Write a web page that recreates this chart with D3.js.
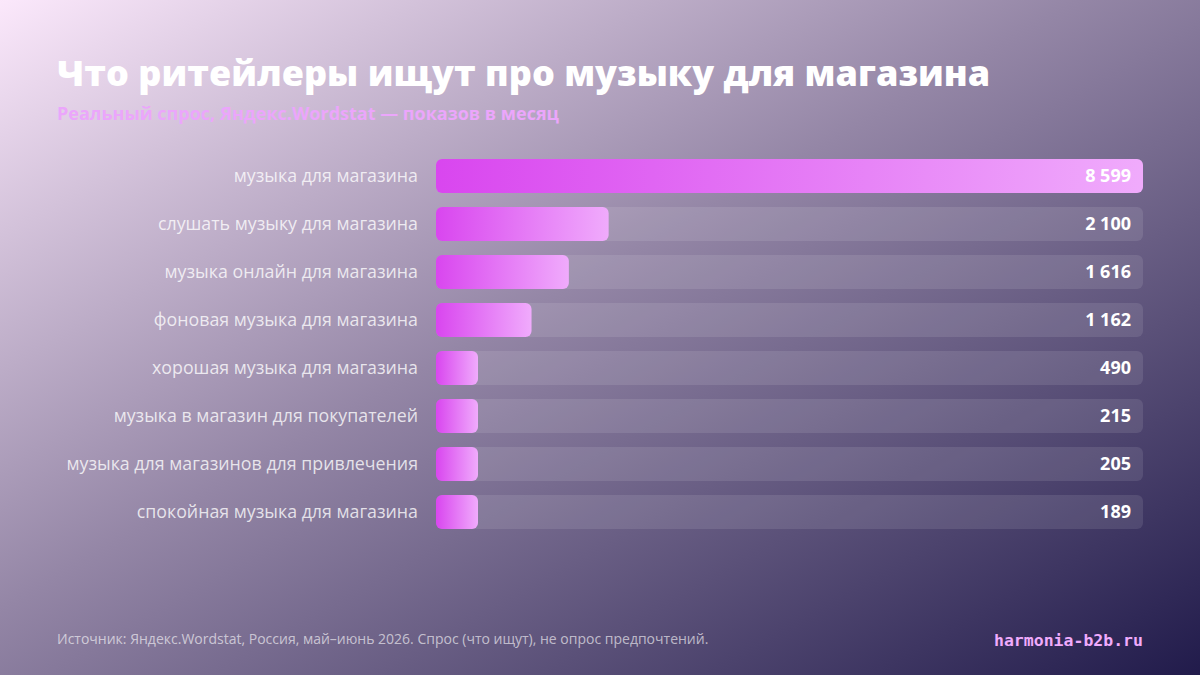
<!DOCTYPE html>
<html>
<head>
<meta charset="utf-8">
<script src="https://cdn.jsdelivr.net/npm/d3@7"></script>
<style>
  html, body { margin: 0; padding: 0; }
  body { width: 1200px; height: 675px; overflow: hidden; }
  svg { display: block; }
</style>
</head>
<body>
<div id="chart"></div>
<script>
var queries = [
  "музыка для магазина",
  "слушать музыку для магазина",
  "музыка онлайн для магазина",
  "фоновая музыка для магазина",
  "хорошая музыка для магазина",
  "музыка в магазин для покупателей",
  "музыка для магазинов для привлечения",
  "спокойная музыка для магазина"
];
var impressions = [8599, 2100, 1616, 1162, 490, 215, 205, 189];

var titleText = "Что ритейлеры ищут про музыку для магазина",
  subtitleText = "Реальный спрос, Яндекс.Wordstat — показов в месяц",
  sourceText = "Источник: Яндекс.Wordstat, Россия, май–июнь 2026. Спрос (что ищут), не опрос предпочтений.",
  siteText = "harmonia-b2b.ru";

var W = 1200, H = 675,
  barLeft = 436, barRight = 1143,
  minBar = 42,
  fmt = function(v) { return d3.format(",")(v).replace(/,/g, " "); };

var svg = d3.select("#chart").append("svg")
  .attr("width", W)
  .attr("height", H);

var defs = svg.append("defs");

var bg = defs.append("linearGradient")
  .attr("id", "bg")
  .attr("x1", 0).attr("y1", 0).attr("x2", 1).attr("y2", 1);
bg.append("stop").attr("offset", "0%").attr("stop-color", "#fbe8fb");
bg.append("stop").attr("offset", "45%").attr("stop-color", "#9486a6");
bg.append("stop").attr("offset", "100%").attr("stop-color", "#211b4b");

var barGrad = defs.append("linearGradient")
  .attr("id", "barGrad")
  .attr("x1", 0).attr("y1", 0).attr("x2", 1).attr("y2", 0);
barGrad.append("stop").attr("offset", "0%").attr("stop-color", "#d946ef");
barGrad.append("stop").attr("offset", "100%").attr("stop-color", "#f0abfc");

svg.append("rect")
  .attr("width", W)
  .attr("height", H)
  .attr("fill", "url(#bg)");

// Titles
svg.append("text")
  .attr("x", 57).attr("y", 86)
  .attr("fill", "#ffffff")
  .style("font-family", "'Open Sans', 'Noto Sans', sans-serif")
  .style("font-weight", 800)
  .style("font-size", "36px")
  .text(titleText);

svg.append("text")
  .attr("x", 57).attr("y", 120)
  .attr("fill", "#eba6fb")
  .style("font-family", "'Open Sans', 'Noto Sans', sans-serif")
  .style("font-weight", 700)
  .style("font-size", "18px")
  .text(subtitleText);

// Scales
var x = d3.scaleLinear()
  .domain([0, d3.max(impressions)])
  .range([0, barRight - barLeft]);

// step 48px, bar 34px
var y = d3.scaleBand()
  .domain(queries)
  .range([159, 159 + 48 * queries.length - 14])
  .paddingInner(14 / 48)
  .paddingOuter(0);

var rows = svg.append("g")
  .selectAll("g")
  .data(queries)
  .enter().append("g")
  .attr("transform", function(d) { return "translate(0," + y(d) + ")"; });

// Track
rows.append("rect")
  .attr("x", barLeft)
  .attr("width", barRight - barLeft)
  .attr("height", y.bandwidth())
  .attr("rx", 6)
  .attr("fill", "rgba(255,255,255,0.1)");

// Bar
rows.append("rect")
  .attr("x", barLeft)
  .attr("width", function(d, i) { return Math.max(minBar, x(impressions[i])); })
  .attr("height", y.bandwidth())
  .attr("rx", 6)
  .attr("fill", "url(#barGrad)");

// Category labels
rows.append("text")
  .attr("x", 418)
  .attr("y", y.bandwidth() / 2)
  .attr("dy", "0.35em")
  .attr("text-anchor", "end")
  .attr("fill", "rgba(255,255,255,0.78)")
  .style("font-family", "'Open Sans', 'Noto Sans', sans-serif")
  .style("font-size", "17.8px")
  .text(function(d) { return d; });

// Values
rows.append("text")
  .attr("x", 1131)
  .attr("y", y.bandwidth() / 2)
  .attr("dy", "0.35em")
  .attr("text-anchor", "end")
  .attr("fill", "#ffffff")
  .style("font-family", "'Open Sans', 'Noto Sans', sans-serif")
  .style("font-weight", 700)
  .style("font-size", "18px")
  .text(function(d, i) { return fmt(impressions[i]); });

// Footer
svg.append("text")
  .attr("x", 57).attr("y", 644)
  .attr("fill", "rgba(255,255,255,0.62)")
  .style("font-family", "'Open Sans', sans-serif")
  .style("font-size", "14px")
  .text(sourceText);

svg.append("text")
  .attr("x", 1143).attr("y", 646)
  .attr("text-anchor", "end")
  .attr("fill", "#f0abfc")
  .style("font-family", "'DejaVu Sans Mono', monospace")
  .style("font-weight", 700)
  .style("font-size", "16.5px")
  .text(siteText);
</script>
</body>
</html>
